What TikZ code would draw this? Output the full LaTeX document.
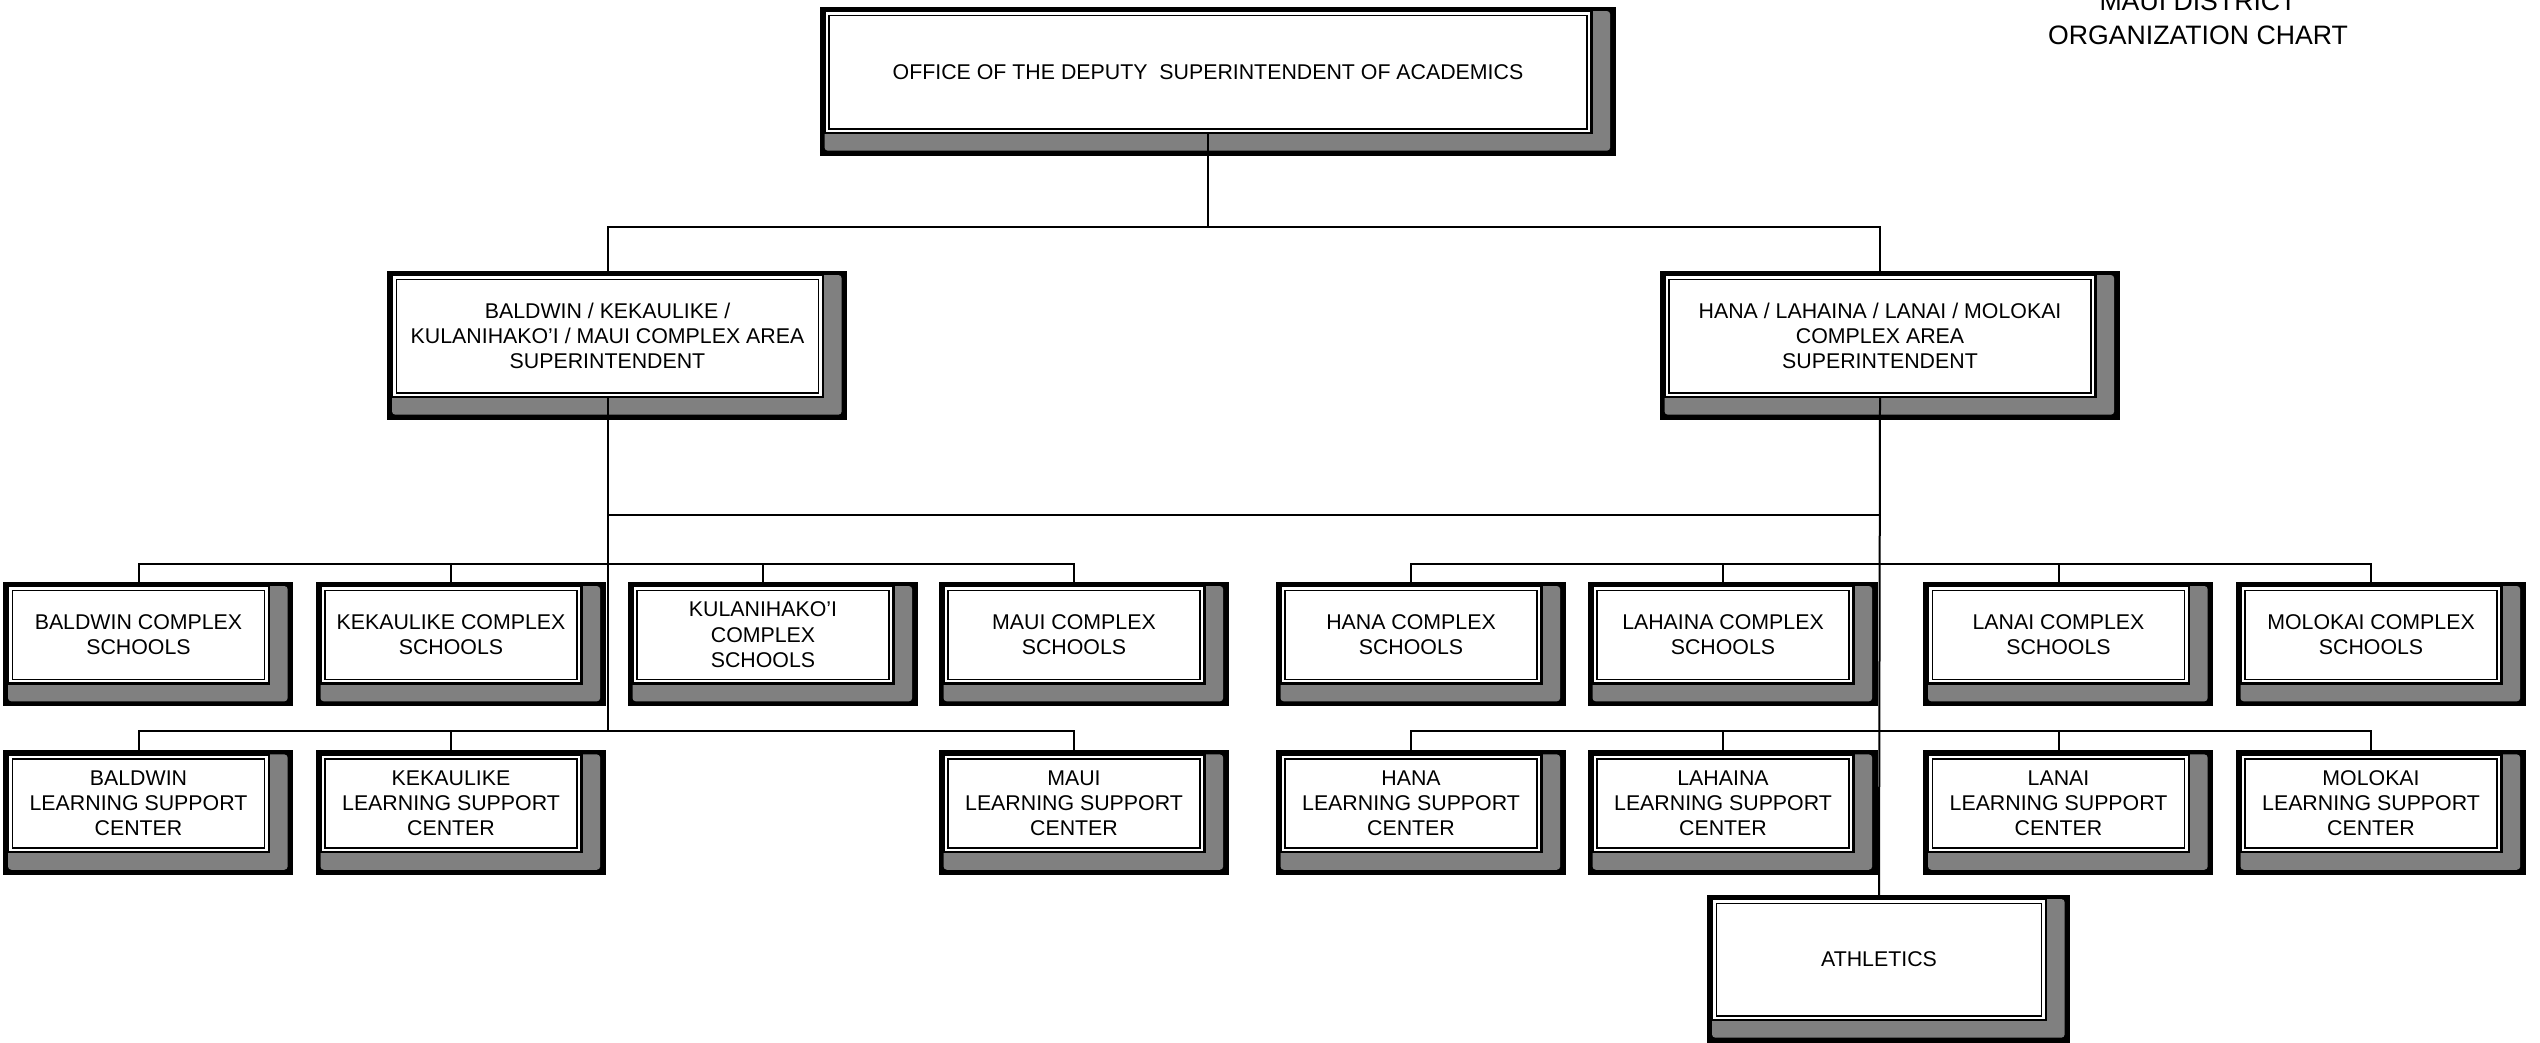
\documentclass[tikz,border=0pt]{standalone}
\usepackage{fontspec}
\setmainfont{Liberation Sans}
\usetikzlibrary{backgrounds}
\begin{document}
\begin{tikzpicture}[x=0.3pt,y=-0.3pt,
  orgbox/.style={draw=black, line width=0.8pt, fill=white, align=center,
    inner sep=0pt, outer sep=0pt, anchor=north,
    font=\fontsize{6.4}{7.6}\selectfont},
  bigbox/.style={orgbox, minimum height=36.6pt},
  smallbox/.style={orgbox, minimum width=78.3pt, minimum height=29.3pt},
  conn/.style={line width=0.6pt, draw=black},
  titletext/.style={font=\fontsize{8}{10}\selectfont, anchor=base, inner sep=0pt}
]
\begin{scope}[on background layer]
\fill[white] (0,0) rectangle (2540,1042);
\end{scope}
\useasboundingbox (0,0) rectangle (2540,1042);

% title
\node[titletext] (t1) at (2198,10) {MAUI DISTRICT};
\node[titletext] (t2) at (2198,44.6) {ORGANIZATION CHART};

% level 1
\node[bigbox, minimum width=230.1pt] (top) at (1208,11) {OFFICE OF THE DEPUTY~ SUPERINTENDENT OF ACADEMICS};
% level 2
\node[bigbox, minimum width=129.3pt] (asL) at (607.5,275) {BALDWIN / KEKAULIKE /\\KULANIHAKO’I / MAUI COMPLEX AREA\\SUPERINTENDENT};
\node[bigbox, minimum width=129.3pt] (asR) at (1880,275) {HANA / LAHAINA / LANAI / MOLOKAI\\COMPLEX AREA\\SUPERINTENDENT};
% schools
\node[smallbox] (sBal) at (138.5,586) {BALDWIN COMPLEX\\SCHOOLS};
\node[smallbox] (sKek) at (451,586) {KEKAULIKE COMPLEX\\SCHOOLS};
\node[smallbox] (sKul) at (763,586) {KULANIHAKO’I\\COMPLEX\\SCHOOLS};
\node[smallbox] (sMau) at (1074,586) {MAUI COMPLEX\\SCHOOLS};
\node[smallbox] (sHan) at (1411,586) {HANA COMPLEX\\SCHOOLS};
\node[smallbox] (sLah) at (1723,586) {LAHAINA COMPLEX\\SCHOOLS};
\node[smallbox] (sLan) at (2058.5,586) {LANAI COMPLEX\\SCHOOLS};
\node[smallbox] (sMol) at (2371,586) {MOLOKAI COMPLEX\\SCHOOLS};
% learning support centers
\node[smallbox] (cBal) at (138.5,754.4) {BALDWIN\\LEARNING SUPPORT\\CENTER};
\node[smallbox] (cKek) at (451,754.4) {KEKAULIKE\\LEARNING SUPPORT\\CENTER};
\node[smallbox] (cMau) at (1074,754.4) {MAUI\\LEARNING SUPPORT\\CENTER};
\node[smallbox] (cHan) at (1411,754.4) {HANA\\LEARNING SUPPORT\\CENTER};
\node[smallbox] (cLah) at (1723,754.4) {LAHAINA\\LEARNING SUPPORT\\CENTER};
\node[smallbox] (cLan) at (2058.5,754.4) {LANAI\\LEARNING SUPPORT\\CENTER};
\node[smallbox] (cMol) at (2371,754.4) {MOLOKAI\\LEARNING SUPPORT\\CENTER};
% athletics
\node[orgbox, minimum width=100.2pt, minimum height=36.3pt] (ath) at (1879,899) {ATHLETICS};

% frames, shadows and inner lines
\foreach \n in {top,asL,asR,sBal,sKek,sKul,sMau,sHan,sLah,sLan,sMol,cBal,cKek,cMau,cHan,cLah,cLan,cMol,ath}{
  \begin{scope}[on background layer]
    \fill[black] ([shift={(-1.4pt,1.3pt)}]\n.north west) rectangle ([shift={(7.2pt,-6.75pt)}]\n.south east);
    \fill[gray, rounded corners=1pt] (\n.north west) rectangle ([shift={(5.6pt,-5.3pt)}]\n.south east);
  \end{scope}
  \draw[line width=0.45pt] ([shift={(1.4pt,-1.4pt)}]\n.north west) rectangle ([shift={(-1.3pt,1.2pt)}]\n.south east);
}

% bus levels
\coordinate (y1) at (0,227);
\coordinate (y2) at (0,515);
\coordinate (y3) at (0,564);
\coordinate (y4) at (0,731);

% connectors
\begin{scope}[on background layer]
\draw[conn] (top.south) -- (top.south |- y1);
\draw[conn] (asL.north) |- (asR.north |- y1) -- (asR.north);
\draw[conn] (asL.south) -- (asL.south |- y4);
\draw[conn] (asR.south) -- (ath.north);
\draw[conn] (asL.south |- y2) -- (asR.south |- y2);
% schools buses
\draw[conn] (sBal.north) |- (sMau.north |- y3) -- (sMau.north);
\draw[conn] (sKek.north) -- (sKek.north |- y3);
\draw[conn] (sKul.north) -- (sKul.north |- y3);
\draw[conn] (sHan.north) |- (sMol.north |- y3) -- (sMol.north);
\draw[conn] (sLah.north) -- (sLah.north |- y3);
\draw[conn] (sLan.north) -- (sLan.north |- y3);
% LSC buses
\draw[conn] (cBal.north) |- (cMau.north |- y4) -- (cMau.north);
\draw[conn] (cKek.north) -- (cKek.north |- y4);
\draw[conn] (cHan.north) |- (cMol.north |- y4) -- (cMol.north);
\draw[conn] (cLah.north) -- (cLah.north |- y4);
\draw[conn] (cLan.north) -- (cLan.north |- y4);
\end{scope}
\end{tikzpicture}
\end{document}
